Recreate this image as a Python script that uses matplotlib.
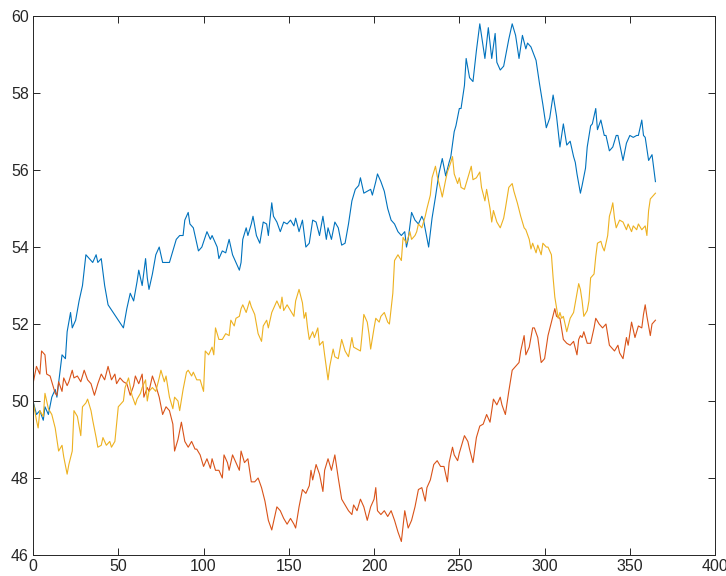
import matplotlib.pyplot as plt

# three daily price paths (day, price)
blue_day = [0, 2, 4, 6, 7, 9, 11, 13, 14, 17, 19, 20, 22, 23, 25, 27, 29, 31, 33, 35,
            37, 38, 40, 42, 44, 47, 50, 53, 55, 57, 59, 61, 62, 64, 66, 67, 68, 70, 72, 74,
            76, 78, 80, 82, 84, 86, 88, 89, 91, 92, 94, 97, 99, 102, 104, 105, 108, 109, 111, 113,
            115, 117, 119, 121, 122, 123, 125, 126, 128, 129, 131, 133, 135, 137, 138, 140, 141, 143, 145, 147,
            149, 151, 153, 154, 156, 158, 160, 162, 164, 166, 168, 170, 172, 173, 175, 177, 179, 181, 183, 185,
            187, 189, 191, 192, 194, 196, 198, 199, 201, 202, 204, 206, 208, 210, 212, 214, 216, 218, 219, 220,
            222, 224, 226, 228, 229, 232, 234, 236, 238, 240, 242, 244, 245, 247, 248, 250, 251, 253, 254, 256,
            258, 260, 262, 265, 267, 269, 271, 272, 274, 276, 279, 281, 283, 285, 287, 289, 290, 292, 295, 297,
            299, 301, 303, 305, 307, 309, 311, 313, 315, 317, 318, 319, 321, 322, 324, 325, 327, 328, 330, 331,
            333, 335, 336, 338, 340, 342, 343, 346, 348, 350, 352, 354, 355, 357, 358, 359, 361, 363, 365]
blue_val = [50.0, 49.65, 49.75, 49.5, 49.85, 49.65, 50.1, 50.3, 50.1, 51.2, 51.1, 51.8, 52.3, 51.9, 52.1, 52.6, 53.0, 53.8, 53.7, 53.6,
            53.8, 53.6, 53.7, 53.0, 52.5, 52.3, 52.1, 51.9, 52.4, 52.8, 52.6, 53.1, 53.4, 53.0, 53.7, 53.2, 52.9, 53.3, 53.8, 54.0,
            53.6, 53.6, 53.6, 53.9, 54.2, 54.3, 54.3, 54.7, 54.9, 54.6, 54.5, 53.9, 54.0, 54.4, 54.2, 54.3, 54.0, 53.7, 53.9, 53.85,
            54.2, 53.8, 53.6, 53.4, 53.6, 54.2, 54.5, 54.3, 54.6, 54.8, 54.3, 54.1, 54.65, 54.6, 54.3, 55.15, 54.8, 54.65, 54.4, 54.65,
            54.6, 54.7, 54.55, 54.75, 54.4, 54.7, 54.0, 54.1, 54.7, 54.65, 54.3, 54.8, 54.2, 54.5, 54.2, 54.65, 54.5, 54.05, 54.1, 54.6,
            55.2, 55.5, 55.6, 55.8, 55.4, 55.45, 55.5, 55.35, 55.7, 55.9, 55.7, 55.45, 55.0, 54.7, 54.6, 54.4, 54.3, 54.4, 54.0, 54.2,
            54.9, 54.7, 54.6, 54.8, 54.7, 54.0, 54.75, 55.3, 55.9, 56.3, 55.85, 56.2, 56.35, 57.0, 57.15, 57.6, 57.6, 58.2, 58.9, 58.4,
            58.3, 59.1, 59.8, 58.9, 59.7, 58.9, 59.55, 58.8, 58.6, 58.7, 59.4, 59.8, 59.5, 58.9, 59.5, 59.15, 59.3, 59.2, 58.85, 58.25,
            57.7, 57.1, 57.35, 57.95, 57.4, 56.6, 57.2, 56.65, 56.75, 56.35, 56.2, 55.9, 55.4, 55.6, 56.05, 56.6, 57.15, 57.2, 57.6, 57.05,
            57.3, 56.9, 56.9, 56.5, 56.6, 56.9, 56.9, 56.25, 56.7, 56.9, 56.85, 56.9, 56.9, 57.3, 56.9, 56.85, 56.25, 56.4, 55.7]

red_day = [0, 2, 4, 5, 7, 8, 10, 11, 13, 14, 15, 17, 18, 20, 21, 23, 24, 26, 28, 30,
           32, 34, 36, 38, 40, 42, 44, 46, 48, 49, 51, 53, 55, 57, 59, 60, 62, 64, 65, 67,
           68, 70, 72, 74, 76, 78, 80, 82, 83, 85, 87, 89, 91, 93, 95, 96, 98, 100, 102, 104,
           105, 107, 109, 111, 112, 114, 115, 117, 119, 121, 122, 124, 126, 128, 130, 132, 134, 136, 138, 140,
           142, 143, 145, 147, 149, 151, 153, 154, 156, 158, 160, 162, 163, 164, 166, 168, 170, 171, 173, 175,
           177, 179, 181, 183, 185, 187, 188, 190, 192, 194, 196, 198, 200, 201, 202, 204, 206, 208, 210, 212,
           214, 216, 218, 220, 222, 224, 226, 228, 230, 231, 233, 235, 237, 239, 241, 243, 244, 246, 247, 249,
           250, 253, 255, 256, 258, 260, 262, 264, 266, 268, 270, 272, 274, 275, 277, 279, 281, 283, 285, 286,
           288, 289, 291, 293, 294, 296, 298, 300, 302, 304, 306, 307, 309, 311, 313, 315, 317, 319, 320, 321,
           322, 323, 325, 327, 329, 330, 332, 334, 336, 338, 339, 341, 343, 344, 346, 348, 349, 351, 353, 355,
           357, 358, 359, 360, 362, 363, 365]
red_val = [50.45, 50.9, 50.7, 51.3, 51.2, 50.7, 50.65, 50.5, 50.2, 50.15, 50.5, 50.25, 50.6, 50.4, 50.5, 50.8, 50.6, 50.65, 50.5, 50.8,
           50.55, 50.45, 50.15, 50.45, 50.7, 50.55, 50.9, 50.55, 50.7, 50.45, 50.6, 50.5, 50.45, 50.15, 50.4, 50.65, 50.45, 50.7, 50.1, 50.35,
           50.25, 50.65, 50.4, 50.1, 49.65, 49.85, 49.75, 49.4, 48.7, 49.0, 49.45, 48.95, 48.8, 48.95, 48.75, 48.75, 48.6, 48.3, 48.5, 48.25,
           48.5, 48.2, 48.2, 48.0, 48.6, 48.4, 48.2, 48.6, 48.4, 48.2, 48.7, 48.4, 48.5, 47.9, 47.9, 48.0, 47.75, 47.4, 46.9, 46.65,
           47.05, 47.25, 47.15, 46.95, 46.8, 46.95, 46.8, 46.7, 47.25, 47.7, 47.6, 47.8, 48.2, 47.95, 48.35, 48.1, 47.65, 48.2, 48.5, 48.2,
           48.6, 48.0, 47.45, 47.3, 47.15, 47.05, 47.3, 47.15, 47.45, 47.25, 46.9, 47.25, 47.45, 47.75, 47.15, 47.05, 47.15, 47.0, 47.15, 46.9,
           46.6, 46.35, 47.15, 46.7, 46.9, 47.25, 47.7, 47.75, 47.4, 47.75, 47.95, 48.35, 48.45, 48.3, 48.3, 47.9, 48.4, 48.8, 48.6, 48.45,
           48.65, 49.1, 48.95, 48.75, 48.4, 49.05, 49.35, 49.4, 49.65, 49.45, 50.05, 49.9, 50.1, 49.9, 49.65, 50.25, 50.8, 50.9, 51.0, 51.3,
           51.7, 51.2, 51.4, 51.9, 51.9, 51.65, 51.0, 51.1, 51.7, 52.05, 52.4, 52.2, 52.15, 51.6, 51.5, 51.45, 51.55, 51.2, 51.6, 51.7,
           51.65, 51.8, 51.5, 51.5, 51.9, 52.15, 52.0, 51.9, 52.0, 51.45, 51.4, 51.3, 51.45, 51.25, 51.1, 51.65, 51.45, 52.05, 51.65, 51.95,
           51.9, 52.25, 52.5, 52.2, 51.7, 52.0, 52.1]

yellow_day = [0, 2, 3, 4, 6, 7, 9, 11, 13, 15, 17, 18, 20, 21, 23, 24, 26, 28, 29, 31,
              32, 34, 35, 37, 38, 40, 41, 43, 45, 46, 48, 50, 51, 53, 54, 56, 58, 60, 61, 63,
              64, 66, 67, 68, 70, 72, 74, 75, 77, 78, 80, 82, 83, 85, 86, 88, 90, 91, 93, 94,
              96, 98, 100, 101, 103, 105, 106, 107, 109, 111, 113, 115, 116, 118, 119, 121, 122, 123, 125, 127,
              128, 130, 132, 134, 135, 137, 138, 140, 141, 143, 145, 146, 147, 149, 151, 153, 154, 156, 158, 159,
              160, 161, 162, 164, 165, 167, 168, 170, 171, 173, 174, 176, 177, 179, 180, 181, 183, 185, 187, 188,
              190, 192, 193, 194, 196, 197, 198, 200, 201, 203, 204, 206, 208, 209, 211, 212, 214, 216, 217, 219,
              221, 222, 224, 225, 226, 228, 230, 231, 233, 234, 236, 237, 239, 240, 242, 243, 245, 246, 247, 249,
              250, 251, 253, 255, 257, 258, 260, 262, 263, 265, 266, 268, 269, 270, 272, 274, 276, 277, 279, 281,
              282, 284, 286, 288, 289, 291, 292, 293, 295, 296, 298, 299, 301, 302, 304, 305, 306, 308, 309, 310,
              311, 313, 315, 317, 319, 320, 321, 322, 323, 325, 326, 327, 329, 330, 331, 333, 334, 335, 337, 338,
              339, 340, 341, 342, 344, 346, 348, 349, 351, 352, 354, 355, 357, 359, 360, 361, 362, 363, 365]
yellow_val = [50.0, 49.5, 49.3, 49.75, 49.6, 50.2, 49.8, 49.65, 49.3, 48.7, 48.85, 48.55, 48.1, 48.35, 48.7, 49.75, 49.6, 49.1, 49.85, 49.95,
              50.05, 49.75, 49.5, 49.05, 48.8, 48.85, 49.05, 48.85, 48.95, 48.8, 48.95, 49.85, 49.9, 50.0, 50.35, 50.6, 50.15, 49.9, 50.05, 50.2,
              50.35, 50.55, 50.0, 50.25, 50.35, 50.25, 50.6, 50.8, 50.5, 50.65, 50.1, 49.8, 50.1, 50.0, 49.75, 50.3, 50.75, 50.8, 50.65, 50.75,
              50.55, 50.55, 50.25, 51.3, 51.2, 51.4, 51.2, 51.9, 51.6, 51.6, 51.75, 51.7, 52.1, 51.95, 52.15, 52.2, 52.4, 52.5, 52.3, 52.6,
              52.45, 52.25, 51.75, 51.55, 51.95, 52.1, 51.9, 52.3, 52.4, 52.6, 52.4, 52.7, 52.35, 52.5, 52.35, 52.2, 52.6, 52.9, 52.55, 52.15,
              52.3, 51.9, 51.6, 51.8, 51.65, 51.9, 51.45, 51.55, 51.2, 50.55, 50.9, 51.35, 51.15, 51.1, 51.35, 51.6, 51.3, 51.15, 51.65, 51.4,
              51.35, 51.3, 51.75, 52.25, 52.05, 51.75, 51.35, 51.9, 52.15, 52.05, 52.2, 52.3, 52.05, 52.0, 52.8, 53.65, 53.8, 53.65, 54.25, 54.1,
              54.4, 54.2, 54.3, 54.4, 54.6, 54.5, 54.8, 55.0, 55.35, 55.8, 56.1, 55.85, 55.5, 55.3, 55.75, 55.95, 56.2, 56.35, 55.9, 55.65,
              55.8, 55.55, 55.5, 55.8, 56.1, 55.75, 55.8, 55.95, 55.55, 55.2, 55.5, 55.0, 54.65, 54.95, 54.65, 54.5, 54.75, 55.0, 55.55, 55.65,
              55.45, 55.15, 54.8, 54.5, 54.45, 54.2, 53.95, 54.1, 53.85, 54.05, 53.8, 54.1, 54.0, 54.0, 53.8, 53.2, 52.7, 52.15, 52.3, 52.15,
              52.2, 51.8, 52.15, 52.3, 52.8, 53.05, 52.9, 52.6, 52.2, 52.35, 52.6, 53.2, 53.3, 53.75, 54.1, 54.15, 54.0, 53.9, 54.3, 54.8,
              54.95, 55.15, 54.75, 54.5, 54.7, 54.65, 54.45, 54.6, 54.4, 54.55, 54.45, 54.6, 54.45, 54.55, 54.3, 54.95, 55.25, 55.3, 55.4]

plt.rcParams['font.family'] = ['Liberation Sans', 'DejaVu Sans']

fig = plt.figure(figsize=(7.26, 5.76), dpi=100)
ax = fig.add_axes([0.0455, 0.0365, 0.9395, 0.9355])

# default MATLAB line colours, thin lines
ax.plot(blue_day, blue_val, color='#0072BD', lw=0.8)
ax.plot(red_day, red_val, color='#D95319', lw=0.8)
ax.plot(yellow_day, yellow_val, color='#EDB120', lw=0.8)

ax.set_xlim(0, 400)
ax.set_ylim(46, 60)
ax.set_xticks(range(0, 401, 50))
ax.set_yticks(range(46, 61, 2))
ax.tick_params(direction='in', top=True, right=True, length=5, width=0.7,
               labelsize=11.5, colors='#262626', pad=3)
for s in ax.spines.values():
    s.set_color('#262626')
    s.set_linewidth(0.7)

fig.savefig('out.png', dpi=100)
